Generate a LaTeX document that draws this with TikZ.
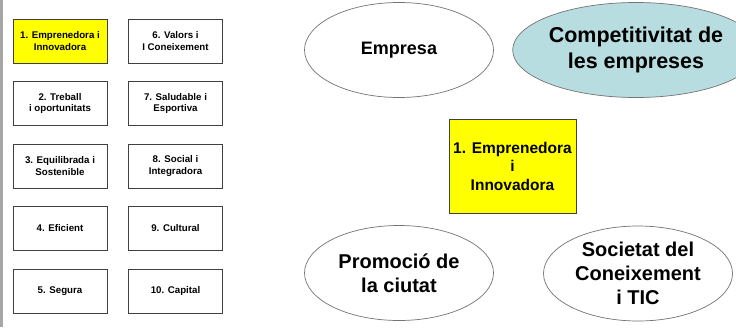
\documentclass[tikz,border=0pt]{standalone}
\usepackage{fontspec}
\setmainfont{Liberation Sans}
\usetikzlibrary{shapes.geometric}
\definecolor{paleteal}{RGB}{183,221,224}
\definecolor{boxyellow}{RGB}{255,255,0}

\begin{document}
\begin{tikzpicture}[x=1pt,y=-1pt,
        smallbox/.style={draw=black!75, line width=0.8pt, minimum width=94pt, minimum height=44pt, inner sep=0pt, align=center, font=\fontsize{9.7}{11.5}\selectfont\bfseries},
        bigoval/.style={ellipse, draw=black!55, line width=0.7pt, minimum width=189pt, minimum height=95pt, inner sep=0pt, align=center, font=\fontsize{20}{24}\selectfont\bfseries}]
        % Page size and left border
        \useasboundingbox (0,0) rectangle (736,327);
        \fill[white] (0,0) rectangle (736,327);
        \fill[black!35] (0,0) rectangle (3,327);

        % Drawing the list of boxes
        \node[smallbox, fill=boxyellow] (list1) at (60,41) {1. Emprenedora i\\Innovadora};
        \node[smallbox] (list2) at (60,103.5) {2. Treball\\i oportunitats};
        \node[smallbox] (list3) at (60,166) {3. Equilibrada i\\Sostenible};
        \node[smallbox] (list4) at (60,228.5) {4. Eficient};
        \node[smallbox] (list5) at (60,291) {5. Segura};
        \node[smallbox] (list6) at (175.5,41) {6. Valors i\\I Coneixement};
        \node[smallbox] (list7) at (175.5,103.5) {7. Saludable i\\Esportiva};
        \node[smallbox] (list8) at (175.5,166) {8. Social i\\Integradora};
        \node[smallbox] (list9) at (175.5,228.5) {9. Cultural};
        \node[smallbox] (list10) at (175.5,291) {10. Capital};

        % Drawing the central box
        \node[draw=black!75, line width=0.8pt, fill=boxyellow, minimum width=127pt, minimum height=94pt, inner sep=0pt, align=center, font=\fontsize{15.5}{18.5}\selectfont\bfseries] (centre) at (512.5,166) {1. Emprenedora\\i\\Innovadora};

        % Drawing the ovals
        \node[bigoval, font=\fontsize{18}{22}\selectfont\bfseries] (empresa) at (399,50) {Empresa};
        \node[bigoval, fill=paleteal, font=\fontsize{21.5}{26}\selectfont\bfseries] (compet) at (636,50) {Competitivitat de\\les empreses};
        \node[bigoval] (promocio) at (399,273) {Promoció de\\la ciutat};
        \node[bigoval] (societat) at (638,273.5) {Societat del\\Coneixement\\i TIC};

    \end{tikzpicture}
\end{document}
